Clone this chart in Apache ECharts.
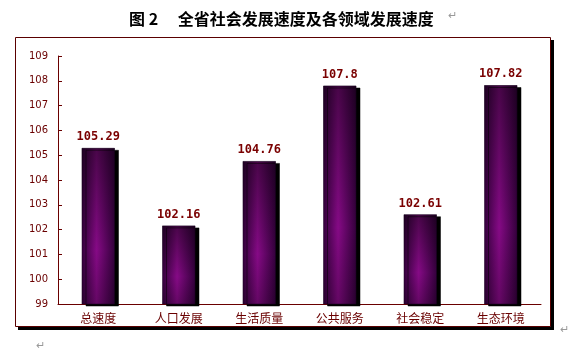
<!DOCTYPE html>
<html><head><meta charset="utf-8">
<script src="https://cdn.jsdelivr.net/npm/echarts@6/dist/echarts.min.js"></script>
<style>html,body{margin:0;padding:0;background:#fff;}#c{width:584px;height:356px;}</style>
</head><body><div id="c"></div>
<script>
const categories = ['总速度', '人口发展', '生活质量', '公共服务', '社会稳定', '生态环境'];
const speedValues = [105.29, 102.16, 104.76, 107.8, 102.61, 107.82];
const valueLabels = ['105.29', '102.16', '104.76', '107.8', '102.61', '107.82'];
const yMin = 99, yMax = 109, yStep = 1;
const titleText = '图 2　 全省社会发展速度及各领域发展速度';

const chart = echarts.init(document.getElementById('c'));
const red = '#6a0000';
chart.setOption({
  animation: false,
  backgroundColor: '#fff',
  title: {
    text: titleText, left: 124, top: 6,
    textStyle: { fontFamily: 'Noto Sans CJK SC', fontWeight: 'bold', fontSize: 16, color: '#000' }
  },
  graphic: [
    { type: 'rect', z: -2, shape: { x: 18, y: 40, width: 536, height: 290 },
      style: { fill: '#000' } },
    { type: 'rect', z: -1, shape: { x: 15.5, y: 37.5, width: 535, height: 289 },
      style: { fill: '#fff', stroke: '#5a0000', lineWidth: 1 } },
    { type: 'text', left: 448, top: 10, style: { text: '↵', fontSize: 11, fill: '#999' } },
    { type: 'text', left: 560, top: 324, style: { text: '↵', fontSize: 11, fill: '#999' } },
    { type: 'text', left: 36, top: 340, style: { text: '↵', fontSize: 11, fill: '#999' } }
  ],
  grid: { left: 58, right: 43, top: 56, bottom: 52 },
  xAxis: {
    type: 'category', data: categories,
    axisLine: { lineStyle: { color: red, width: 1 } },
    axisTick: { inside: true, length: 3, lineStyle: { color: red } },
    axisLabel: { color: red, fontSize: 12, fontFamily: 'Noto Sans CJK SC', margin: 8 }
  },
  yAxis: {
    type: 'value', min: yMin, max: yMax, interval: yStep,
    splitLine: { show: false },
    axisLine: { show: true, lineStyle: { color: red, width: 1 } },
    axisTick: { show: true, inside: true, length: 4, lineStyle: { color: red } },
    axisLabel: { color: red, fontSize: 10, fontFamily: 'DejaVu Sans', margin: 10 }
  },
  series: [
    {
      type: 'bar', data: speedValues, barWidth: 33,
      itemStyle: {
        color: new echarts.graphic.LinearGradient(0, 0, 1, 0, [
          { offset: 0, color: '#34003c' },
          { offset: 0.45, color: '#860a86' },
          { offset: 1, color: '#34003c' }
        ]),
        borderColor: '#20002a', borderWidth: 0.5,
        shadowColor: '#000', shadowOffsetX: 4, shadowOffsetY: 2, shadowBlur: 0
      }
    },
    {
      type: 'bar', data: speedValues, barWidth: 33, barGap: '-100%',
      itemStyle: {
        color: new echarts.graphic.LinearGradient(0, 0, 0, 1, [
          { offset: 0, color: 'rgba(0,0,0,0.45)' },
          { offset: 0.65, color: 'rgba(0,0,0,0)' },
          { offset: 1, color: 'rgba(0,0,0,0.25)' }
        ])
      },
      label: {
        show: true, position: 'top', distance: 5,
        formatter: p => valueLabels[p.dataIndex],
        color: '#7a0000', fontSize: 12, fontWeight: 'bold', fontFamily: 'DejaVu Sans Mono'
      }
    }
  ]
});
</script></body></html>
